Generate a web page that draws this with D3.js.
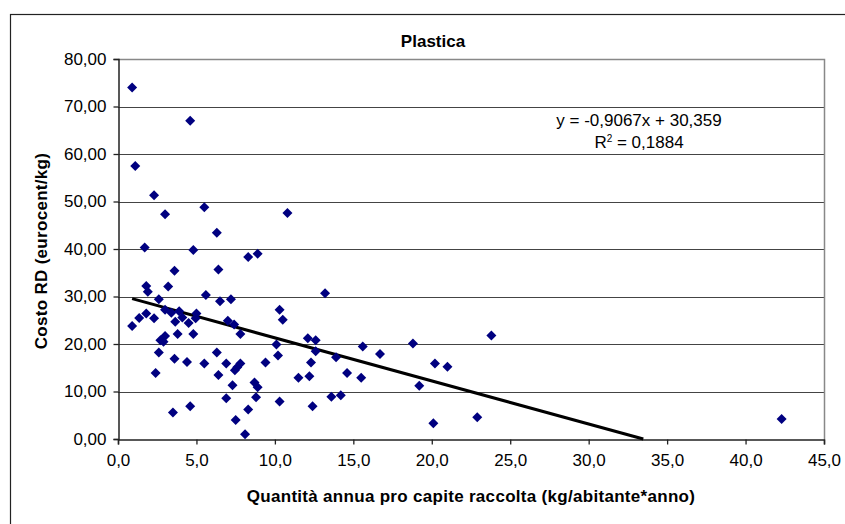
<!DOCTYPE html>
<html>
<head>
<meta charset="UTF-8">
<title>Plastica</title>
<script src="https://cdn.jsdelivr.net/npm/d3@7"></script>
<style>
  body { margin: 0; background: #fff; }
  svg { display: block; font-family: Arial, "Liberation Sans", sans-serif; }
  .tick text { font-size: 17px; fill: #000; }
  .axis-title { font-size: 17px; font-weight: bold; letter-spacing: 0.3px; }
</style>
</head>
<body>
<script>
// quantita annua pro capite raccolta (kg/abitante*anno)
var xs = [0.9, 4.6, 1.1, 2.3, 3.0, 5.5, 6.3, 1.7, 4.8, 3.6,
          6.4, 1.8, 1.9, 3.2, 2.6, 5.6, 6.5, 7.2, 8.3, 8.9,
          10.8, 10.3, 10.5, 10.1, 0.9, 1.35, 1.8, 2.3, 3.0, 3.4,
          3.9, 3.65, 4.1, 4.5, 5.0, 4.95, 3.8, 4.8, 7.0, 7.4,
          7.8, 2.7, 2.9, 3.0, 2.6, 2.4, 3.6, 4.4, 3.5, 4.6,
          5.5, 6.3, 6.4, 6.9, 7.3, 7.45, 7.6, 7.8, 6.9, 7.5,
          8.3, 8.1, 8.7, 8.9, 8.8, 9.4, 10.2, 10.3, 11.5, 12.1,
          12.6, 12.6, 12.3, 12.2, 12.4, 13.9, 14.6, 13.6, 14.2, 15.5,
          15.6, 16.7, 18.8, 19.2, 20.2, 21.0, 20.1, 22.9, 13.2, 23.8,
          42.3];
// costo RD (eurocent/kg)
var ys = [74.0, 67.0, 57.5, 51.3, 47.3, 48.8, 43.4, 40.3, 39.8, 35.4,
          35.7, 32.2, 31.0, 32.1, 29.4, 30.3, 29.0, 29.4, 38.3, 39.0,
          47.6, 27.2, 25.1, 19.9, 23.8, 25.5, 26.4, 25.4, 27.2, 26.6,
          26.9, 24.7, 25.6, 24.4, 26.4, 25.4, 22.1, 22.1, 24.9, 24.1,
          22.1, 20.8, 20.5, 21.7, 18.2, 13.9, 16.9, 16.2, 5.6, 6.9,
          15.9, 18.2, 13.5, 15.9, 11.3, 14.5, 15.1, 15.9, 8.6, 4.0,
          6.2, 1.0, 11.9, 10.9, 8.8, 16.1, 17.6, 7.9, 12.9, 21.2,
          20.8, 18.5, 16.1, 13.2, 6.9, 17.2, 13.9, 8.9, 9.2, 12.9,
          19.5, 17.9, 20.1, 11.2, 15.9, 15.2, 3.3, 4.6, 30.7, 21.8,
          4.2];

var xTicks = [0, 5, 10, 15, 20, 25, 30, 35, 40, 45];
var yTicks = [0, 10, 20, 30, 40, 50, 60, 70, 80];

// linear trendline shown on the chart
var slope = -0.9067;
var intercept = 30.359;
var r2 = 0.1884;

var width = 845;
var height = 524;
var plot = {left: 118, top: 59, right: 824, bottom: 439};

var it = d3.formatLocale({decimal: ",", thousands: ".", grouping: [3], currency: ["", "€"], minus: "-"});
var fmtX = it.format(".1f");
var fmtY = it.format(".2f");

var svg = d3.select('body')
            .append('svg')
            .attr('width', width)
            .attr('height', height);

// chart area border (runs off the right and bottom of the picture)
svg.append('rect')
   .attr('x', 10.5)
   .attr('y', 14.5)
   .attr('width', 860)
   .attr('height', 540)
   .attr('fill', '#fff')
   .attr('stroke', '#222')
   .attr('stroke-width', 1.2);

var x = d3.scaleLinear().domain([0, 45]).range([plot.left, plot.right]);
var y = d3.scaleLinear().domain([0, 80]).range([plot.bottom, plot.top]);

// gridlines
svg.append('g')
   .selectAll('line')
   .data(yTicks.filter(d => d > 0 && d < 80))
   .enter()
   .append('line')
   .attr('x1', plot.left)
   .attr('x2', plot.right)
   .attr('y1', d => Math.round(y(d)) + 0.5)
   .attr('y2', d => Math.round(y(d)) + 0.5)
   .attr('stroke', '#444')
   .attr('stroke-width', 1);

// plot area border, top and right
svg.append('path')
   .attr('d', 'M' + plot.left + ',' + (plot.top + 0.5) + 'H' + (plot.right + 0.5) + 'V' + plot.bottom)
   .attr('fill', 'none')
   .attr('stroke', '#888')
   .attr('stroke-width', 1.5);

var xAxis = svg.append('g')
               .attr('transform', 'translate(0,' + (plot.bottom + 0.5) + ')')
               .call(d3.axisBottom(x).tickValues(xTicks).tickFormat(fmtX).tickSize(5).tickPadding(9));
var yAxis = svg.append('g')
               .attr('transform', 'translate(' + (plot.left + 0.5) + ',0)')
               .call(d3.axisLeft(y).tickValues(yTicks).tickFormat(fmtY).tickSize(5).tickPadding(7));
[xAxis, yAxis].forEach(function (a) {
    a.attr('font-family', null).attr('font-size', null);
    a.select('.domain').attr('stroke', '#222').attr('stroke-width', 1.5);
    a.selectAll('.tick line').attr('stroke', '#222').attr('stroke-width', 1.3);
});

// trendline, clipped where it reaches zero
var xMin = d3.min(xs);
var xEnd = Math.min(d3.max(xs), -intercept / slope);
svg.append('line')
   .attr('x1', x(xMin))
   .attr('y1', y(slope * xMin + intercept))
   .attr('x2', x(xEnd))
   .attr('y2', y(slope * xEnd + intercept))
   .attr('stroke', '#000')
   .attr('stroke-width', 3);

// points
var pts = xs.map((d, i) => ({x: d, y: ys[i]}));
svg.append('g')
   .selectAll('path')
   .data(pts)
   .enter()
   .append('path')
   .attr('transform', d => 'translate(' + x(d.x) + ',' + y(d.y) + ')')
   .attr('d', 'M0,-5L5,0L0,5L-5,0Z')
   .attr('fill', '#000080');

// trendline equation
var fmtC = it.format(".4f");
var fmtI = it.format(".3f");
var eq = svg.append('g')
            .attr('font-size', 17)
            .attr('text-anchor', 'middle');
eq.append('text')
  .attr('x', 639)
  .attr('y', 126)
  .text('y = ' + fmtC(slope) + 'x + ' + fmtI(intercept));
var r2t = eq.append('text')
            .attr('x', 639)
            .attr('y', 148);
r2t.append('tspan').text('R');
r2t.append('tspan').attr('font-size', 10).attr('dy', -6).text('2');
r2t.append('tspan').attr('dy', 6).text(' = ' + fmtC(r2));

// titles
svg.append('text')
   .attr('x', 433)
   .attr('y', 47)
   .attr('text-anchor', 'middle')
   .attr('font-size', 17)
   .attr('font-weight', 'bold')
   .text('Plastica');

svg.append('text')
   .attr('class', 'axis-title')
   .attr('x', (plot.left + plot.right) / 2)
   .attr('y', 502)
   .attr('text-anchor', 'middle')
   .text('Quantità annua pro capite raccolta (kg/abitante*anno)');

svg.append('text')
   .attr('class', 'axis-title')
   .attr('transform', 'translate(47,' + ((plot.top + plot.bottom) / 2 + 2) + ') rotate(-90)')
   .attr('text-anchor', 'middle')
   .text('Costo RD (eurocent/kg)');
</script>
</body>
</html>
